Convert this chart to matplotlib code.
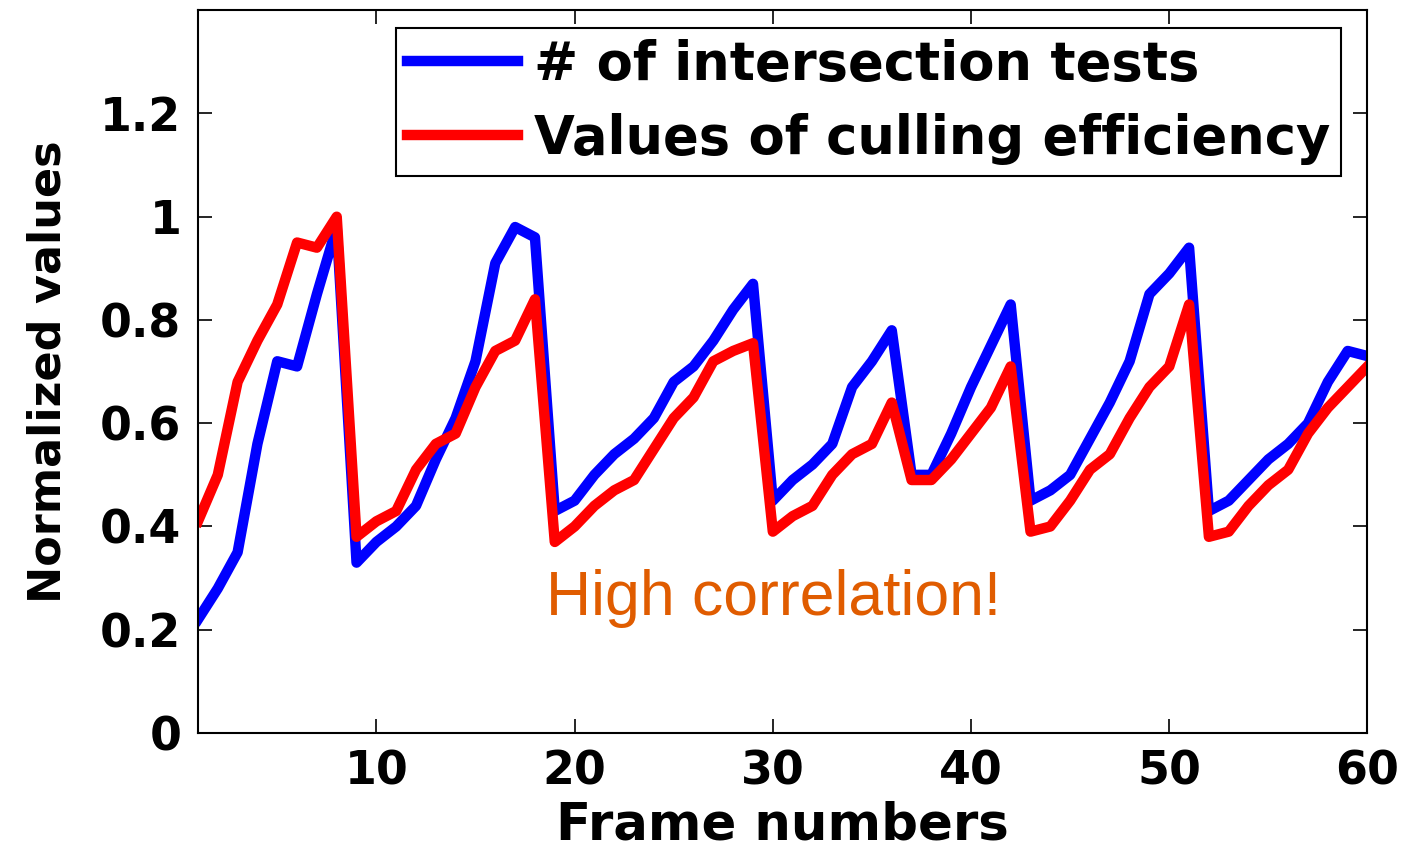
import matplotlib.pyplot as plt
import numpy as np

frames = np.arange(1, 61)

# normalized number of intersection tests (blue)
tests = [0.22, 0.28, 0.35, 0.56, 0.72, 0.71, 0.85, 0.98, 0.33, 0.37,
         0.40, 0.44, 0.53, 0.61, 0.72, 0.91, 0.98, 0.96, 0.43, 0.45,
         0.50, 0.54, 0.57, 0.61, 0.68, 0.71, 0.76, 0.82, 0.87, 0.45,
         0.49, 0.52, 0.56, 0.67, 0.72, 0.78, 0.50, 0.50, 0.58, 0.67,
         0.75, 0.83, 0.45, 0.47, 0.50, 0.57, 0.64, 0.72, 0.85, 0.89,
         0.94, 0.43, 0.45, 0.49, 0.53, 0.56, 0.60, 0.68, 0.74, 0.73]

# normalized culling efficiency (red)
culling = [0.41, 0.50, 0.68, 0.76, 0.83, 0.95, 0.94, 1.00, 0.38, 0.41,
           0.43, 0.51, 0.56, 0.58, 0.67, 0.74, 0.76, 0.84, 0.37, 0.40,
           0.44, 0.47, 0.49, 0.55, 0.61, 0.65, 0.72, 0.74, 0.755, 0.39,
           0.42, 0.44, 0.50, 0.54, 0.56, 0.64, 0.49, 0.49, 0.53, 0.58,
           0.63, 0.71, 0.39, 0.40, 0.45, 0.51, 0.54, 0.61, 0.67, 0.71,
           0.83, 0.38, 0.39, 0.44, 0.48, 0.51, 0.58, 0.63, 0.67, 0.71]

labels = ['# of intersection tests', 'Values of culling efficiency']

plt.rcParams['font.family'] = ['DejaVu Sans']

fig = plt.figure(figsize=(14.04, 8.48), dpi=100)
ax = fig.add_axes([0.141, 0.1356, 0.833, 0.8524])

ax.plot(frames, tests, color='#0000ff', linewidth=7.5, label=labels[0])
ax.plot(frames, culling, color='#ff0000', linewidth=7.5, label=labels[1])

ax.set_xlim(1, 60)
ax.set_ylim(0, 1.4)
ax.set_xticks([10, 20, 30, 40, 50, 60])
ax.set_yticks([0, 0.2, 0.4, 0.6, 0.8, 1, 1.2])
ax.set_yticklabels(['0', '0.2', '0.4', '0.6', '0.8', '1', '1.2'])
ax.tick_params(direction='in', length=10, width=1.2, top=True, right=True,
               labelsize=33)
ax.tick_params(axis='y', pad=12)
ax.tick_params(axis='x', pad=12)
for lab in ax.get_xticklabels() + ax.get_yticklabels():
    lab.set_fontweight('bold')
for sp in ax.spines.values():
    sp.set_linewidth(1.5)

ax.set_xlabel('Frame numbers', fontsize=37, fontweight='bold', labelpad=4)
ax.set_ylabel('Normalized values', fontsize=32, fontweight='bold', labelpad=22)

leg = ax.legend(loc='upper right', bbox_to_anchor=(0.977, 0.975),
                borderaxespad=0, fancybox=False, framealpha=1,
                edgecolor='black', handlelength=2.1, handletextpad=0.3,
                labelspacing=0.42, borderpad=0.2,
                prop={'size': 38, 'weight': 'bold'})
leg.get_frame().set_linewidth(1.5)

ax.text(0.492, 0.163, 'High correlation!', transform=ax.transAxes,
        ha='center', va='baseline', fontsize=45, color='#e05c00',
        family='Liberation Sans')

fig.savefig('out.png', dpi=100)
